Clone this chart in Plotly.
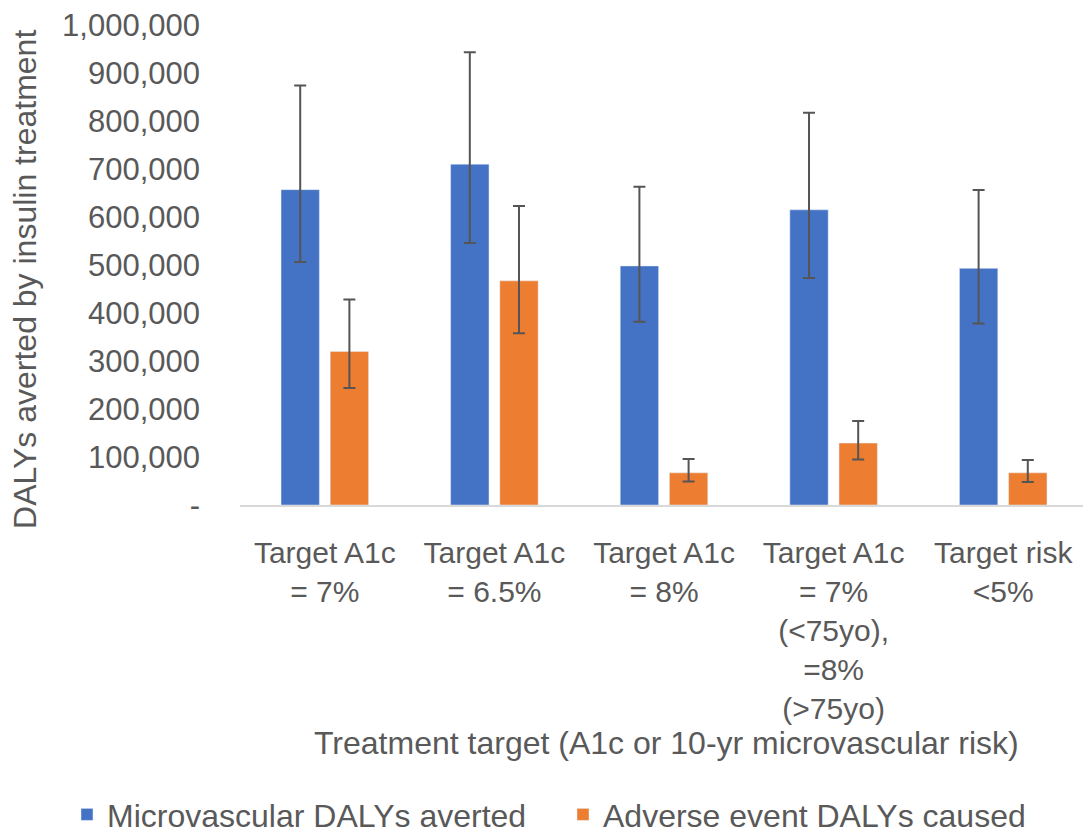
import plotly.graph_objects as go

categories = [
    "Target A1c<br>= 7%",
    "Target A1c<br>= 6.5%",
    "Target A1c<br>= 8%",
    "Target A1c<br>= 7%<br>(<75yo),<br>=8%<br>(>75yo)",
    "Target risk<br><5%",
]

micro_vals = [657000, 710000, 498000, 615000, 493000]
micro_high = [874000, 943000, 663000, 817000, 656000]
micro_low = [506000, 546000, 382000, 473000, 378000]

adverse_vals = [320000, 467000, 67000, 129000, 67000]
adverse_high = [428000, 623000, 96000, 175000, 94000]
adverse_low = [244000, 358000, 49000, 95000, 48000]

y_ticks = [0, 100000, 200000, 300000, 400000, 500000, 600000, 700000, 800000, 900000, 1000000]
y_ticktext = ["-"] + [f"{v:,}" for v in y_ticks[1:]]

FONT = "Liberation Sans, Arial, sans-serif"
GREY = "#595959"
ERR = "#555555"


def err(vals, hi, lo):
    return dict(
        type="data",
        symmetric=False,
        array=[h - v for h, v in zip(hi, vals)],
        arrayminus=[v - l for v, l in zip(vals, lo)],
        color=ERR,
        thickness=2,
        width=6,
    )


fig = go.Figure()
fig.add_trace(go.Bar(
    x=categories, y=micro_vals, name="Microvascular DALYs averted",
    marker=dict(color="#4472C4"), error_y=err(micro_vals, micro_high, micro_low),
))
fig.add_trace(go.Bar(
    x=categories, y=adverse_vals, name="Adverse event DALYs caused",
    marker=dict(color="#ED7D31"), error_y=err(adverse_vals, adverse_high, adverse_low),
))

fig.update_layout(
    width=1083, height=827,
    margin=dict(l=232, r=3, t=17, b=330, autoexpand=False),
    paper_bgcolor="white", plot_bgcolor="white",
    barmode="group", bargap=0.42, bargroupgap=0.22,
    font=dict(family=FONT, size=30, color=GREY),
    showlegend=True,
    legend=dict(
        orientation="h", x=-0.204, xanchor="left", y=-0.645, yanchor="middle",
        font=dict(size=32, color=GREY), itemwidth=30, entrywidth=451,
    ),
    xaxis=dict(
        showline=True, linecolor="#D9D9D9", linewidth=2,
        tickfont=dict(size=30, color=GREY),
        ticks="", automargin=False, ticklabelstandoff=20,
    ),
    yaxis=dict(
        range=[0, 1000000], tickvals=y_ticks, ticktext=y_ticktext,
        showgrid=False, zeroline=False, showline=False,
        tickfont=dict(size=31, color=GREY), ticklabelstandoff=39,
        ticklabeloverflow="allow",
        automargin=False,
    ),
    annotations=[
        dict(text="Treatment target (A1c or 10-yr microvascular risk)",
             xref="paper", yref="paper", x=0.5035, y=-0.496,
             xanchor="center", yanchor="middle", showarrow=False,
             font=dict(size=32, color=GREY)),
        dict(text="DALYs averted by insulin treatment",
             xref="paper", yref="paper", x=-0.2535, y=0.469,
             xanchor="center", yanchor="middle", showarrow=False, textangle=-90,
             font=dict(size=32, color=GREY)),
    ],
)

fig.write_html("out.html")
